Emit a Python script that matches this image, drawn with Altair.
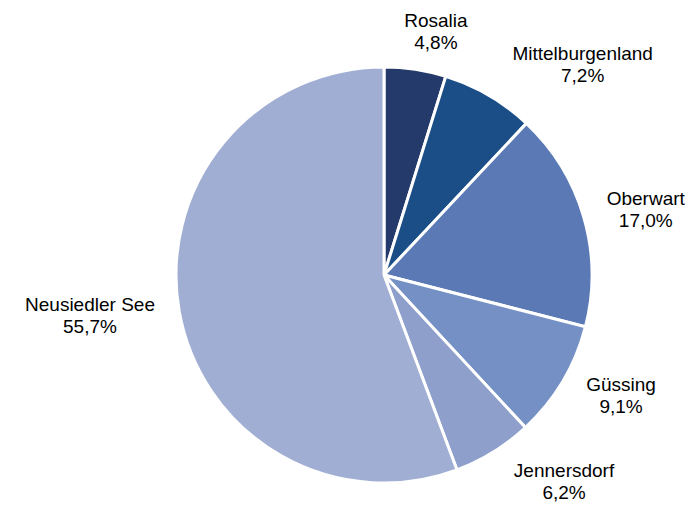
import altair as alt
import pandas as pd

regions = ["Rosalia", "Mittelburgenland", "Oberwart", "Güssing", "Jennersdorf", "Neusiedler See"]
shares = [4.8, 7.2, 17.0, 9.1, 6.2, 55.7]
colors = ["#243a6b", "#1b4d87", "#5b7ab5", "#7490c5", "#8e9fcc", "#a0aed3"]

df = pd.DataFrame({"name": regions, "value": shares, "idx": list(range(len(regions)))})

CX, CY = 376, 267   # pie centre inside the plot area
R = 208             # pie radius
LR = 228            # label anchor distance
CHW = 9.5           # approx. character width of the label font
LH = 22             # label line height

pie = alt.Chart(df).mark_arc(radius=R, stroke="white", strokeWidth=3).encode(
    theta=alt.Theta("value:Q", stack=True),
    color=alt.Color("name:N", scale=alt.Scale(domain=regions, range=colors), legend=None),
    order=alt.Order("idx:Q"),
    x=alt.value(CX),
    y=alt.value(CY),
)

labels = alt.Chart(df).transform_joinaggregate(
    total="sum(value)"
).transform_window(
    cum="sum(value)", sort=[alt.SortField("idx")], frame=[None, 0]
).transform_calculate(
    mid="2 * PI * (datum.cum - datum.value / 2) / datum.total",
    w=f"length(datum.name) * {CHW}",
    label="datum.name + '\\n' + replace(format(datum.value, '.1f'), '.', ',') + '%'",
).transform_calculate(
    ar=f"{LR} + 18 * abs(cos(datum.mid))",
    shift="(sin(datum.mid) >= 0 ? 1 : -1) * datum.w / 2 * min(1, abs(sin(datum.mid)) * 3)",
).transform_calculate(
    px=f"{CX} + datum.ar * sin(datum.mid) + datum.shift",
    py=f"{CY} - datum.ar * cos(datum.mid) - {LH / 2}",
).mark_text(
    fontSize=19, font="Liberation Sans", lineBreak="\n", lineHeight=LH,
    baseline="middle", align="center", color="black"
).encode(
    x=alt.X("px:Q", scale=None, axis=None),
    y=alt.Y("py:Q", scale=None, axis=None),
    text=alt.Text("label:N"),
)

chart = alt.layer(pie, labels).properties(
    width=679, height=495, padding=0, autosize=alt.AutoSizeParams(type="none")
).configure_view(stroke=None)

chart.save("out.html", embed_options={"renderer": "svg", "actions": False})
